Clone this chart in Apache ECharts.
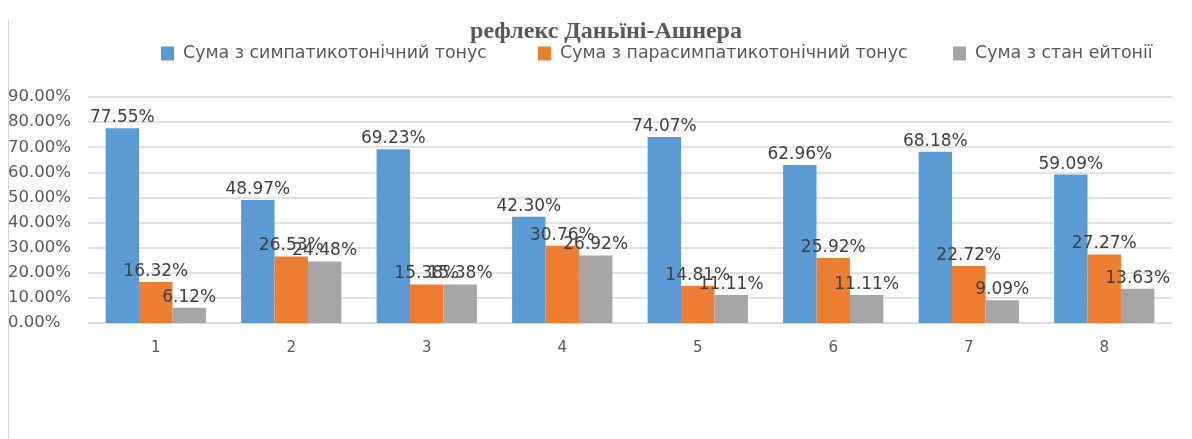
<!DOCTYPE html>
<html>
<head>
<meta charset="utf-8">
<script src="https://cdn.jsdelivr.net/npm/echarts@6/dist/echarts.min.js"></script>
<style>
  html, body { margin: 0; padding: 0; background: #fff; }
  #chart { width: 1192px; height: 439px; }
</style>
</head>
<body>
<div id="chart"></div>
<script>
let categories = ['1', '2', '3', '4', '5', '6', '7', '8']
let sympathetic = [77.55, 48.97, 69.23, 42.30, 74.07, 62.96, 68.18, 59.09]
let parasympathetic = [16.32, 26.53, 15.38, 30.76, 14.81, 25.92, 22.72, 27.27]
let eutonia = [6.12, 24.48, 15.38, 26.92, 11.11, 11.11, 9.09, 13.63]
let seriesNames = ['Сума з симпатикотонічний тонус', 'Сума з парасимпатикотонічний тонус', 'Сума з стан ейтонії']
let colors = ['#5b9bd5', '#ed7d31', '#a5a5a5']

let chart = echarts.init(document.getElementById('chart'))

function makeSeries(name, data, color) {
    return {
        name: name,
        type: 'bar',
        data: data,
        barGap: '0%',
        barCategoryGap: '26%',
        itemStyle: {color: color},
        label: {
            show: true,
            position: 'top',
            distance: 2,
            color: '#404040',
            fontFamily: 'DejaVu Sans',
            fontSize: 17,
            formatter: p => p.value.toFixed(2) + '%'
        }
    }
}

function makeLegend(name, left) {
    return {
        left: left,
        top: 40,
        itemWidth: 13,
        itemHeight: 14,
        itemGap: 0,
        icon: 'rect',
        textStyle: {
            fontFamily: 'DejaVu Sans',
            fontSize: 17.4,
            color: '#595959',
            padding: [0, 0, 0, 4]
        },
        data: [name]
    }
}

let option = {
    animation: false,
    color: colors,
    title: {
        text: 'рефлекс Даньїні-Ашнера',
        left: 601,
        textAlign: 'center',
        top: 15,
        textStyle: {
            fontFamily: 'Liberation Serif',
            fontWeight: 'bold',
            fontSize: 24,
            color: '#595959'
        }
    },
    legend: [
        makeLegend(seriesNames[0], 156),
        makeLegend(seriesNames[1], 533),
        makeLegend(seriesNames[2], 948)
    ],
    grid: {
        left: 88,
        right: 20,
        top: 97,
        bottom: 116
    },
    xAxis: {
        type: 'category',
        data: categories,
        axisTick: {show: false},
        axisLine: {lineStyle: {color: '#d9d9d9'}},
        axisLabel: {
            color: '#595959',
            fontFamily: 'DejaVu Sans',
            fontSize: 15,
            margin: 18
        }
    },
    yAxis: {
        type: 'value',
        min: 0,
        max: 90,
        interval: 10,
        splitLine: {lineStyle: {color: '#d9d9d9', width: 1.5}},
        axisLine: {show: false},
        axisTick: {show: false},
        axisLabel: {
            color: '#595959',
            fontFamily: 'DejaVu Sans',
            fontSize: 16.5,
            align: 'left',
            margin: 80,
            formatter: v => v.toFixed(2) + '%'
        }
    },
    graphic: [
        {
            type: 'line',
            shape: {x1: 8.5, y1: 20, x2: 8.5, y2: 439},
            style: {stroke: '#d9d9d9', lineWidth: 1}
        }
    ],
    series: [
        makeSeries(seriesNames[0], sympathetic, colors[0]),
        makeSeries(seriesNames[1], parasympathetic, colors[1]),
        makeSeries(seriesNames[2], eutonia, colors[2])
    ]
}
chart.setOption(option)
</script>
</body>
</html>
